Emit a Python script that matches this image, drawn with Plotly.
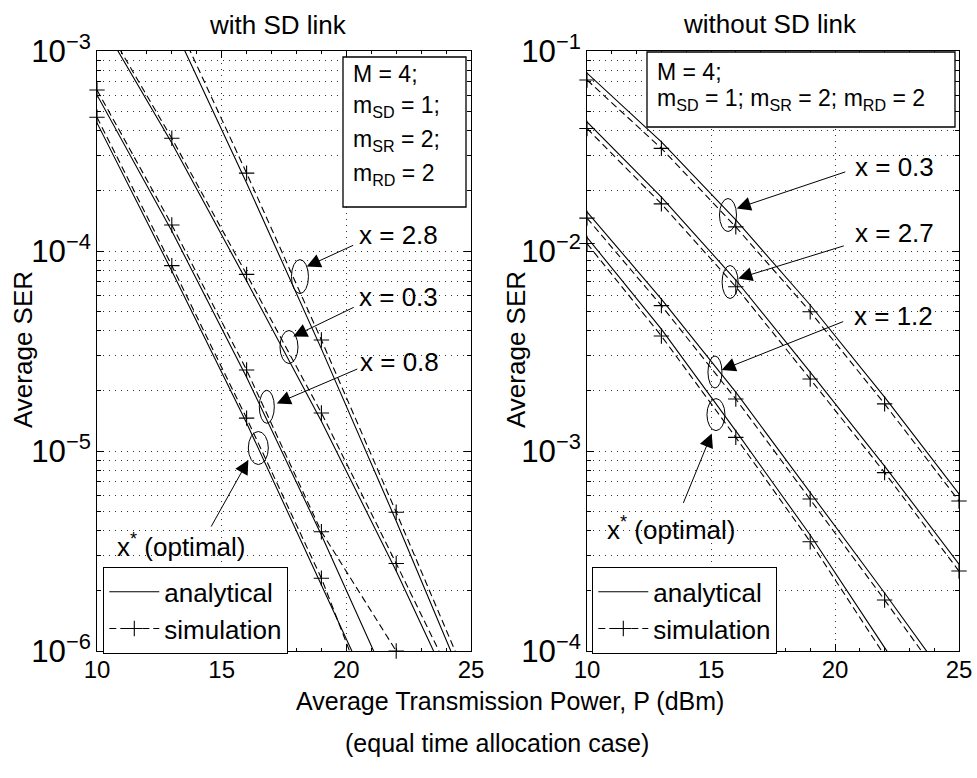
import numpy as np
import plotly.graph_objects as go

W, H = 977, 778
FONT = "Liberation Sans, Arial, Helvetica, sans-serif"

# ---------------- data ----------------
P_dBm = [10, 13, 16, 19, 22, 25]

# with SD link (left)
sd_names = ["x = 2.8", "x = 0.3", "x = 0.8", "x* (optimal)"]
sd_ana_x28 = [7.24e-3, 1.38e-3, 2.19e-4, 3.24e-5, 4.47e-6, 5.75e-7]
sd_ana_x03 = [1.51e-3, 3.47e-4, 7.08e-5, 1.41e-5, 2.51e-6, 3.98e-7]
sd_ana_x08 = [6.03e-4, 1.26e-4, 2.34e-5, 3.80e-6, 5.62e-7, 7.9e-8]
sd_ana_opt = [4.37e-4, 7.94e-5, 1.38e-5, 2.19e-6, 3.31e-7, 4.5e-8]
sd_sim_x28 = [7.94e-3, 1.58e-3, 2.45e-4, 3.59e-5, 4.94e-6, 6.5e-7]
sd_sim_x03 = [1.60e-3, 3.66e-4, 7.64e-5, 1.55e-5, 2.74e-6, 4.7e-7]
sd_sim_x08 = [6.38e-4, 1.35e-4, 2.54e-5, 3.95e-6, 1.0e-6, 1.5e-7]
sd_sim_opt = [4.66e-4, 8.45e-5, 1.46e-5, 2.31e-6, 2.5e-7, 3.0e-8]

# without SD link (right)
nosd_names = ["x = 0.3", "x = 2.7", "x = 1.2", "x* (optimal)"]
nosd_ana_x03 = [7.76e-2, 3.51e-2, 1.43e-2, 5.37e-3, 1.86e-3, 6.10e-4]
nosd_ana_x27 = [4.42e-2, 1.86e-2, 7.16e-3, 2.48e-3, 8.41e-4, 2.72e-4]
nosd_ana_x12 = [1.57e-2, 5.75e-3, 1.97e-3, 6.24e-4, 1.95e-4, 5.96e-5]
nosd_ana_opt = [1.17e-2, 4.07e-3, 1.26e-3, 3.80e-4, 1.04e-4, 3.02e-5]
nosd_sim_x03 = [7.16e-2, 3.26e-2, 1.32e-2, 4.97e-3, 1.72e-3, 5.62e-4]
nosd_sim_x27 = [4.10e-2, 1.72e-2, 6.63e-3, 2.29e-3, 7.80e-4, 2.51e-4]
nosd_sim_x12 = [1.46e-2, 5.33e-3, 1.82e-3, 5.75e-4, 1.80e-4, 5.5e-5]
nosd_sim_opt = [1.09e-2, 3.76e-3, 1.17e-3, 3.52e-4, 9.5e-5, 2.75e-5]

x_ticks = [10, 15, 20, 25]
x_range = [10, 25]
sd_yrange = [-6, -3]      # log10
nosd_yrange = [-4, -1]    # log10

# ---------------- figure ----------------
fig = go.Figure()

panels = [
    dict(xa="x", ya="y", leg="legend", yr=sd_yrange,
         ana=[sd_ana_x28, sd_ana_x03, sd_ana_x08, sd_ana_opt],
         sim=[sd_sim_x28, sd_sim_x03, sd_sim_x08, sd_sim_opt]),
    dict(xa="x2", ya="y2", leg="legend2", yr=nosd_yrange,
         ana=[nosd_ana_x03, nosd_ana_x27, nosd_ana_x12, nosd_ana_opt],
         sim=[nosd_sim_x03, nosd_sim_x27, nosd_sim_x12, nosd_sim_opt]),
]

LINE_W = 1.1
DASH = "7px,4px"
MARK = dict(symbol="cross-thin", size=11, line=dict(color="black", width=1.1), color="black")

for p in panels:
    for a in p["ana"]:
        fig.add_trace(go.Scatter(x=P_dBm, y=a, mode="lines", xaxis=p["xa"], yaxis=p["ya"],
                                 line=dict(color="black", width=LINE_W), showlegend=False,
                                 hoverinfo="skip"))
    for s in p["sim"]:
        fig.add_trace(go.Scatter(x=P_dBm, y=s, mode="lines", xaxis=p["xa"], yaxis=p["ya"],
                                 line=dict(color="black", width=LINE_W, dash=DASH),
                                 showlegend=False, hoverinfo="skip"))
        lo, hi = p["yr"]
        keep = [(xv, yv) for xv, yv in zip(P_dBm, s) if lo - 0.02 <= np.log10(yv) <= hi + 0.02]
        fig.add_trace(go.Scatter(x=[k[0] for k in keep], y=[k[1] for k in keep], mode="markers",
                                 xaxis=p["xa"], yaxis=p["ya"], marker=MARK, cliponaxis=False,
                                 showlegend=False, hoverinfo="skip"))
    # legend entries
    fig.add_trace(go.Scatter(x=[None], y=[None], mode="lines", name="analytical",
                             xaxis=p["xa"], yaxis=p["ya"], legend=p["leg"],
                             line=dict(color="black", width=LINE_W)))
    fig.add_trace(go.Scatter(x=[None], y=[None], mode="lines+markers", name="simulation",
                             xaxis=p["xa"], yaxis=p["ya"], legend=p["leg"],
                             line=dict(color="black", width=LINE_W, dash=DASH), marker=MARK))


def fx(px):
    return px / W


def fy(py):
    return 1 - py / H


# plot-area pixel geometry
PLOT_TOP, PLOT_BOT = 51, 651
L_X0, L_X1 = 97, 471
R_X0, R_X1 = 587, 959

GRID = dict(showgrid=True, gridcolor="#333333", gridwidth=1, griddash="1px,5px")

common_x = dict(range=x_range, tickvals=x_ticks, ticks="inside", ticklen=7, tickcolor="black",
                showline=True, linecolor="black", linewidth=1.3, mirror="allticks",
                automargin=False, ticklabelstandoff=-3,
                tickfont=dict(size=24, color="black", family=FONT), zeroline=False,
                minor=dict(dtick=1, ticks="inside", ticklen=3, tickcolor="black", showgrid=False),
                **GRID)
common_y = dict(type="log", dtick=1, exponentformat="power", ticks="inside", ticklen=7,
                tickcolor="black", showline=True, linecolor="black", linewidth=1.3,
                mirror="allticks", automargin=False,
                tickfont=dict(size=25, color="black", family=FONT),
                zeroline=False,
                minor=dict(dtick="D1", ticks="inside", ticklen=4, tickcolor="black",
                           showgrid=True, gridcolor="#333333", griddash="1px,5px"),
                **GRID)

fig.update_layout(
    width=W, height=H, autosize=False,
    margin=dict(l=0, r=0, t=0, b=0, pad=0, autoexpand=False),
    paper_bgcolor="white", plot_bgcolor="white",
    font=dict(family=FONT, color="black", size=24),
    xaxis=dict(domain=[fx(L_X0), fx(L_X1)], anchor="y", **common_x),
    yaxis=dict(domain=[fy(PLOT_BOT), fy(PLOT_TOP)], anchor="x", range=sd_yrange, **common_y),
    xaxis2=dict(domain=[fx(R_X0), fx(R_X1)], anchor="y2", **common_x),
    yaxis2=dict(domain=[fy(PLOT_BOT), fy(PLOT_TOP)], anchor="x2", range=nosd_yrange, **common_y),
    legend=dict(x=fx(103), y=fy(567), xanchor="left", yanchor="top", bgcolor="white",
                bordercolor="black", borderwidth=1.3, font=dict(size=26, family=FONT),
                itemwidth=50, tracegroupgap=0),
    legend2=dict(x=fx(592), y=fy(567), xanchor="left", yanchor="top", bgcolor="white",
                 bordercolor="black", borderwidth=1.3, font=dict(size=26, family=FONT),
                 itemwidth=50, tracegroupgap=0),
    showlegend=True,
)

shapes = []
annotations = []


def txt_paper(text, px, py, size, angle=0, xanchor="center"):
    return dict(text=text, x=fx(px), y=fy(py), xref="paper", yref="paper",
                xanchor=xanchor, yanchor="middle", showarrow=False, textangle=angle,
                font=dict(size=size))


# titles and axis labels
annotations += [
    txt_paper("with SD link", 278, 25, 26),
    txt_paper("without SD link", 770, 24, 26),
    txt_paper("Average SER", 23, 350, 26, angle=-90),
    txt_paper("Average SER", 516, 350, 26, angle=-90),
    txt_paper("Average Transmission Power, P (dBm)", 510, 701, 25),
    txt_paper("(equal time allocation case)", 497, 743, 25),
]

# parameter boxes
shapes.append(dict(type="rect", xref="paper", yref="paper", x0=fx(343), x1=fx(466),
                   y0=fy(207), y1=fy(57), line=dict(color="black", width=1.3),
                   fillcolor="white", layer="above"))
for t, py in [("M = 4;", 74), ("m<sub>SD</sub> = 1;", 107), ("m<sub>SR</sub> = 2;", 140),
              ("m<sub>RD</sub> = 2", 174)]:
    annotations.append(txt_paper(t, 351, py, 23, xanchor="left"))
shapes.append(dict(type="rect", xref="paper", yref="paper", x0=fx(647), x1=fx(955),
                   y0=fy(127), y1=fy(52), line=dict(color="black", width=1.3),
                   fillcolor="white", layer="above"))
for t, py in [("M = 4;", 72), ("m<sub>SD</sub> = 1; m<sub>SR</sub> = 2; m<sub>RD</sub> = 2", 100)]:
    annotations.append(txt_paper(t, 655, py, 23, xanchor="left"))

# curve labels: (axis suffix, text, text x, text log-y, head x, head log-y, ax, ay,
#                ellipse x, ellipse log-y, ellipse w px, ellipse h px)
labels = [
    ("", "x = 2.8", 20.43, -3.92, 18.41, -4.078, 48, -22, 18.14, -4.128, 17, 34),
    ("", "x = 0.3", 20.43, -4.23, 17.87, -4.428, 62, -30, 17.70, -4.48, 18, 33),
    ("", "x = 0.8", 20.47, -4.555, 17.21, -4.762, 82, -35, 16.81, -4.779, 15, 33),
    ("", "x<sup>*</sup> (optimal)", 10.72, -5.47, 16.07, -5.045, -38, 68, 16.47, -4.985, 20, 33),
    ("2", "x = 0.3", 20.73, -1.58, 16.04, -1.787, 110, -37, 15.685, -1.82, 17, 33),
    ("2", "x = 2.7", 20.73, -1.91, 16.10, -2.137, 107, -33, 15.77, -2.155, 16, 33),
    ("2", "x = 1.2", 20.69, -2.325, 15.43, -2.595, 123, -49, 15.16, -2.605, 14, 32),
    ("2", "x<sup>*</sup> (optimal)", 10.73, -3.385, 15.03, -2.912, -29, 71, 15.20, -2.818, 18, 32),
]
for sfx, t, tx, ty, hx, hy, ax, ay, ex, ey, ew, eh in labels:
    xr, yr = "x" + sfx, "y" + sfx
    x0p, x1p = (L_X0, L_X1) if sfx == "" else (R_X0, R_X1)
    ytop = sd_yrange[1] if sfx == "" else nosd_yrange[1]
    px_per_x = (x1p - x0p) / (x_range[1] - x_range[0])
    px_per_dec = (PLOT_BOT - PLOT_TOP) / 3.0
    annotations.append(dict(text=t, x=tx, y=ty, xref=xr, yref=yr, xanchor="left",
                            yanchor="middle", showarrow=False, font=dict(size=26)))
    annotations.append(dict(text="", x=hx, y=hy, xref=xr, yref=yr, showarrow=True,
                            ax=ax, ay=ay, arrowhead=2, arrowsize=2.8, arrowwidth=1,
                            arrowcolor="black", standoff=0))
    cx = x0p + (ex - x_range[0]) * px_per_x
    cy = PLOT_TOP + (ytop - ey) * px_per_dec
    shapes.append(dict(type="circle", xref="paper", yref="paper",
                       x0=fx(cx - ew / 2), x1=fx(cx + ew / 2),
                       y0=fy(cy + eh / 2), y1=fy(cy - eh / 2),
                       line=dict(color="black", width=1)))

fig.update_layout(shapes=shapes, annotations=annotations)
fig.write_html("out.html")
